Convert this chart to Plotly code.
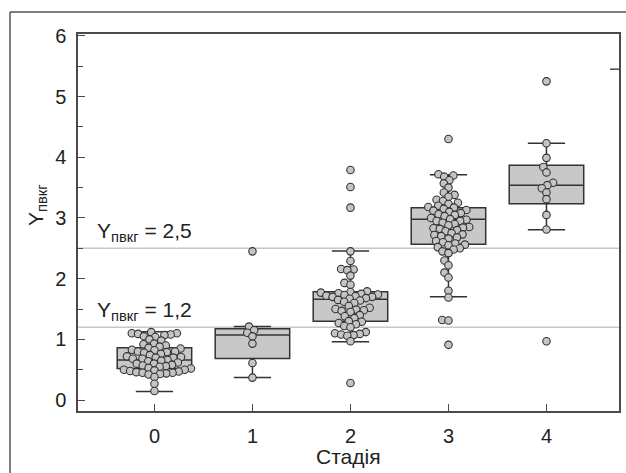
import numpy as np
import plotly.graph_objects as go

# Stage categories on the x axis
stages = [0, 1, 2, 3, 4]
stage_ticks = ["0", "1", "2", "3", "4"]
y_ticks = [0, 1, 2, 3, 4, 5, 6]

# Individual observations per stage
stage0 = [1.12, 1.10, 1.10, 1.09, 1.08, 1.07, 1.05, 1.04, 1.00, 0.98, 0.93, 0.92,
          0.90, 0.88, 0.86, 0.85, 0.83, 0.82, 0.80, 0.80, 0.79, 0.78, 0.76, 0.74,
          0.72, 0.71, 0.70, 0.70, 0.68, 0.68, 0.66, 0.65, 0.64, 0.62, 0.60, 0.60,
          0.58, 0.57, 0.56, 0.55, 0.53, 0.52, 0.50, 0.50, 0.49, 0.48, 0.47, 0.46,
          0.45, 0.45, 0.44, 0.43, 0.42, 0.38, 0.27, 0.15]
stage1 = [2.45, 1.21, 1.15, 1.11, 1.05, 0.93, 0.61, 0.37]
stage2 = [3.79, 3.51, 3.17, 2.45, 2.29, 2.16, 2.15, 2.14, 2.05, 1.93, 1.90, 1.79,
          1.78, 1.77, 1.76, 1.75, 1.74, 1.73, 1.72, 1.71, 1.70, 1.70, 1.68, 1.67,
          1.65, 1.64, 1.62, 1.60, 1.55, 1.52, 1.50, 1.49, 1.48, 1.47, 1.45, 1.40,
          1.38, 1.35, 1.30, 1.29, 1.27, 1.25, 1.22, 1.20, 1.12, 1.10, 1.09, 1.08,
          1.07, 1.06, 0.97, 0.28]
stage3 = [4.30, 3.72, 3.70, 3.68, 3.62, 3.57, 3.50, 3.42, 3.38, 3.35, 3.30, 3.28,
          3.25, 3.23, 3.20, 3.18, 3.17, 3.15, 3.13, 3.12, 3.10, 3.08, 3.06, 3.05,
          3.03, 3.00, 2.98, 2.97, 2.95, 2.95, 2.92, 2.90, 2.88, 2.85, 2.84, 2.83,
          2.82, 2.80, 2.78, 2.75, 2.73, 2.72, 2.70, 2.68, 2.66, 2.62, 2.60, 2.58,
          2.56, 2.55, 2.52, 2.50, 2.48, 2.45, 2.42, 2.30, 2.22, 2.10, 2.02, 1.80,
          1.69, 1.32, 1.31, 0.91]
stage4 = [5.25, 4.23, 3.99, 3.84, 3.75, 3.58, 3.54, 3.49, 3.42, 3.31, 3.05, 2.81, 0.97]

# Box summary per stage
q1 = [0.52, 0.685, 1.30, 2.565, 3.235]
median = [0.66, 1.07, 1.66, 2.98, 3.54]
q3 = [0.86, 1.175, 1.785, 3.17, 3.87]
lower_fence = [0.14, 0.37, 0.96, 1.70, 2.805]
upper_fence = [1.125, 1.21, 2.455, 3.71, 4.23]

# Threshold levels of Y_пвкг
thresholds = [1.2, 2.5]
right_mark = 5.45

X_RANGE = [-0.78, 4.74]
Y_RANGE = [-0.18, 6.03]
PLOT_W, PLOT_H = 541, 377
L, R, T, B = 78, 7, 34, 62
W, H = 626, 473

px_x = PLOT_W / (X_RANGE[1] - X_RANGE[0])
px_y = PLOT_H / (Y_RANGE[1] - Y_RANGE[0])


def swarm(values, center, spacing):
    """Beeswarm offsets: place points, lowest first, as close to the centre as possible."""
    placed = []
    xs = [0.0] * len(values)
    for i in np.argsort(values, kind="stable"):
        y = values[i] * px_y
        cands = [0.0]
        for (px, py) in placed:
            dy = abs(y - py)
            if dy < spacing:
                dx = np.sqrt(spacing ** 2 - dy ** 2)
                cands += [px + dx, px - dx]
        cands.sort(key=lambda c: (abs(c), c))
        for c in cands:
            if all((c - px) ** 2 + (y - py) ** 2 >= spacing ** 2 - 1e-6 for px, py in placed):
                xs[i] = c
                break
        placed.append((xs[i], y))
    return [center + x / px_x for x in xs]


groups = [stage0, stage1, stage2, stage3, stage4]
pts_x, pts_y = [], []
for s, vals in zip(stages, groups):
    pts_x += swarm(vals, s, 6.3)
    pts_y += vals

FONT = "Liberation Sans, Arial, Helvetica, sans-serif"
INK = "#222222"
AXIS = "#4a4a4a"

fig = go.Figure()

fig.add_trace(go.Box(
    x=stages, q1=q1, median=median, q3=q3,
    lowerfence=lower_fence, upperfence=upper_fence,
    boxpoints=False, width=0.76, whiskerwidth=0.5,
    fillcolor="rgb(200,200,200)", line=dict(color="#333333", width=1.5),
    hoverinfo="skip", showlegend=False,
))

fig.add_trace(go.Scatter(
    x=pts_x, y=pts_y, mode="markers",
    marker=dict(size=7.5, color="rgb(196,196,196)", line=dict(color="#333333", width=1.1)),
    hoverinfo="skip", showlegend=False,
))

shapes = []
for t in thresholds:
    shapes.append(dict(type="line", xref="paper", yref="y", x0=0, x1=1, y0=t, y1=t,
                       line=dict(color="#c8c8c8", width=1.5), layer="below"))
# small mark on the right frame
shapes.append(dict(type="line", xref="paper", yref="y", x0=(PLOT_W - 9) / PLOT_W, x1=1,
                   y0=right_mark, y1=right_mark, line=dict(color=AXIS, width=1.5)))
# outer frame (top and left edges)
fx0 = (10 - L) / PLOT_W
fy1 = (T + PLOT_H - 12) / PLOT_H
shapes.append(dict(type="line", xref="paper", yref="paper", x0=fx0, x1=(W - L) / PLOT_W + 0.01,
                   y0=fy1, y1=fy1, line=dict(color="#555555", width=1.5)))
shapes.append(dict(type="line", xref="paper", yref="paper", x0=fx0, x1=fx0,
                   y0=fy1, y1=-(H - T - PLOT_H) / PLOT_H - 0.01, line=dict(color="#555555", width=1.5)))

annotations = []
for t in thresholds:
    label = f"{t:.1f}".replace(".", ",")
    annotations.append(dict(
        x=-0.61, y=t, xref="x", yref="y", xanchor="left", yanchor="bottom", yshift=1,
        text=f"Y<sub>пвкг</sub> = {label}", showarrow=False,
        font=dict(family=FONT, size=21, color=INK),
    ))
annotations.append(dict(
    x=0.5, y=-(456 - T - PLOT_H) / PLOT_H, xref="paper", yref="paper",
    xanchor="center", yanchor="middle", text="Стадія", showarrow=False,
    font=dict(family=FONT, size=21, color=INK),
))
annotations.append(dict(
    x=(37 - L) / PLOT_W, y=(T + PLOT_H - 205) / PLOT_H, xref="paper", yref="paper",
    xanchor="center", yanchor="middle", text="Y<sub>пвкг</sub>", textangle=-90,
    showarrow=False, font=dict(family=FONT, size=21, color=INK),
))

fig.update_layout(
    width=W, height=H,
    margin=dict(l=L, r=R, t=T, b=B, autoexpand=False),
    paper_bgcolor="white", plot_bgcolor="white",
    font=dict(family=FONT, size=20, color=INK),
    shapes=shapes, annotations=annotations,
    showlegend=False,
)
fig.update_xaxes(
    range=X_RANGE, tickvals=stages, ticktext=stage_ticks,
    showgrid=False, zeroline=False,
    showline=True, mirror=True, linecolor=AXIS, linewidth=1.5,
    ticks="inside", ticklen=7, tickwidth=1.2, tickcolor=AXIS,
    ticklabelstandoff=6, tickfont=dict(family=FONT, size=20, color=INK),
)
fig.update_yaxes(
    range=Y_RANGE, tickvals=y_ticks,
    showgrid=False, zeroline=False,
    showline=True, mirror=True, linecolor=AXIS, linewidth=1.5,
    ticks="inside", ticklen=7, tickwidth=1.2, tickcolor=AXIS,
    minor=dict(dtick=0.5, ticks="inside", ticklen=5, tickwidth=1.2, tickcolor=AXIS, showgrid=False),
    ticklabelstandoff=6, tickfont=dict(family=FONT, size=20, color=INK),
)

fig.write_html("out.html")
